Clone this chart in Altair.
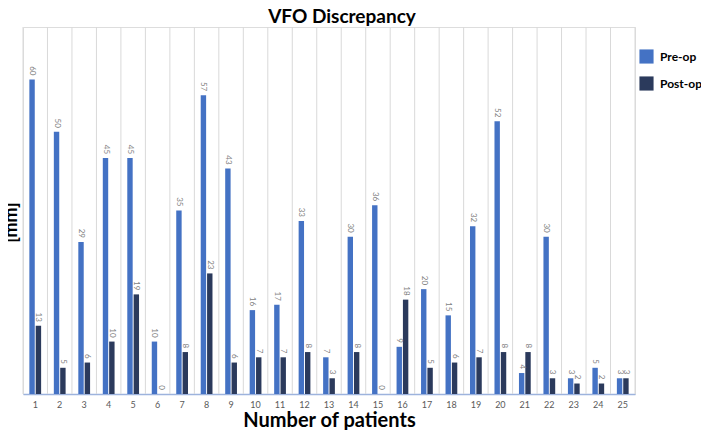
import altair as alt
import pandas as pd

patients = [str(i) for i in range(1, 26)]
pre_op = [60, 50, 29, 45, 45, 10, 35, 57, 43, 16, 17, 33, 7, 30, 36, 9, 20, 15, 32, 52, 4, 30, 3, 5, 3]
post_op = [13, 5, 6, 10, 19, 0, 8, 23, 6, 7, 7, 8, 3, 8, 0, 18, 5, 6, 7, 8, 8, 3, 2, 2, 3]
series = ["Pre-op", "Post-op"]
colors = ["#4472C4", "#2B3A5C"]

rows = []
for p, a, b in zip(patients, pre_op, post_op):
    rows.append({"patient": p, "series": "Pre-op", "value": a})
    rows.append({"patient": p, "series": "Post-op", "value": b})
df = pd.DataFrame(rows)
grid_df = pd.DataFrame({"patient": patients})

W, H = 612, 367
FONT = "Lato"

xscale = alt.Scale(domain=patients, paddingInner=0, paddingOuter=0)
xaxis = alt.Axis(orient="bottom", title="Number of patients", grid=False,
                 labels=True, ticks=False, domain=True, labelAngle=0,
                 domainColor="#9DB3DD", domainWidth=1.5,
                 labelFont=FONT, labelFontSize=9, labelColor="#595959",
                 labelPadding=6,
                 titleFont=FONT, titleFontSize=20, titleFontWeight="bold",
                 titleColor="black", titlePadding=1)
xoff = alt.XOffset("series:N", sort=series,
                   scale=alt.Scale(domain=series, paddingInner=0.15, paddingOuter=1))
yscale = alt.Scale(domain=[0, 70])
yaxis = alt.Axis(title="[mm]", labels=False, ticks=False, domain=False, grid=False,
                 titleFont=FONT, titleFontSize=18, titleFontWeight="bold",
                 titleColor="black", titlePadding=3, titleY=195)

color = alt.Color(
    "series:N", sort=series,
    scale=alt.Scale(domain=series, range=colors),
    legend=alt.Legend(
        title=None, orient="none", legendX=616, legendY=22,
        symbolType="square", symbolSize=200, symbolStrokeWidth=0,
        labelFont=FONT, labelFontSize=12, labelFontWeight="bold", labelColor="black",
        labelOffset=6, rowPadding=12, padding=0,
    ),
)

gridlines = alt.Chart(grid_df).mark_rule(color="#D9D9D9", strokeWidth=1).encode(
    x=alt.X("patient:N", sort=patients, scale=xscale, bandPosition=0, axis=xaxis),
    y=alt.value(0), y2=alt.value(H),
)
edge = alt.Chart(pd.DataFrame({"e": [0]})).mark_rule(color="#D9D9D9", strokeWidth=1).encode(
    x=alt.value(W), y=alt.value(0), y2=alt.value(H)
)

base = alt.Chart(df)

bars = base.mark_bar().encode(
    x=alt.X("patient:N", sort=patients, scale=xscale, axis=xaxis),
    xOffset=xoff,
    y=alt.Y("value:Q", scale=yscale, axis=yaxis),
    color=color,
)

labels = base.mark_text(angle=90, align="right", baseline="middle", dx=-4,
                        fontSize=8, font=FONT, color="#7F7F7F").encode(
    x=alt.X("patient:N", sort=patients, scale=xscale, axis=xaxis),
    xOffset=xoff,
    y=alt.Y("value:Q", scale=yscale, axis=yaxis),
    text="value:Q",
)

chart = alt.layer(gridlines, edge, bars, labels).properties(
    width=W, height=H,
    autosize=alt.AutoSizeParams(type="none"),
    padding={"left": 15, "top": 19, "right": 66, "bottom": 36},
    title=alt.TitleParams("VFO Discrepancy", font=FONT, fontSize=19, fontWeight="bold",
                          color="black", anchor="middle", baseline="bottom",
                          frame="group", offset=6, dx=13, dy=25),
).configure_view(stroke="transparent", strokeWidth=0).configure(background="white")

chart.save("out.html", embed_options={"renderer": "svg", "actions": False})
